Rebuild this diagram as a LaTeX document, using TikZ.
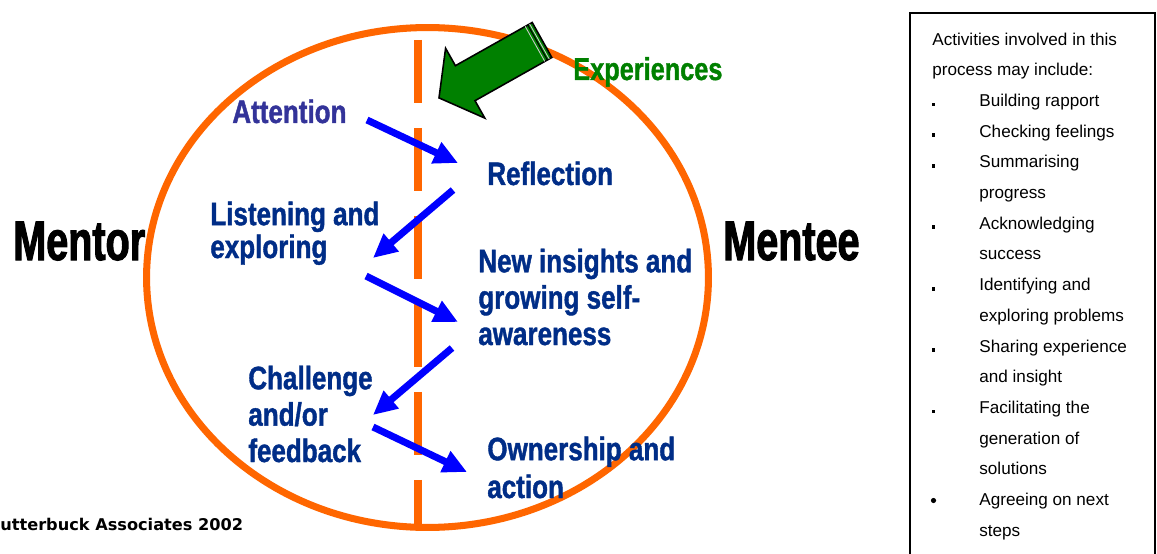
\documentclass[tikz,border=0pt]{standalone}
\usepackage{fontspec}
\setmainfont{Liberation Sans}
\newfontfamily\heavyfont[FakeStretch=0.8,FakeBold=1.2]{Liberation Sans Bold}
\newfontfamily\namefont[FakeStretch=0.71,FakeBold=1.8]{Liberation Sans Bold}
\newfontfamily\notefont{DejaVu Sans Bold}
\usetikzlibrary{arrows.meta,positioning}

\definecolor{ringorange}{RGB}{255,102,0}
\definecolor{arrowblue}{RGB}{0,0,255}
\definecolor{stepblue}{RGB}{0,45,135}
\definecolor{firstblue}{RGB}{51,51,153}
\definecolor{arrowgreen}{RGB}{0,128,0}

\begin{document}
\begin{tikzpicture}[
x=0.02cm, y=-0.02cm,
stage/.style={
    font=\heavyfont\fontsize{18.5}{20.7}\selectfont,
    text=stepblue,
    inner sep=0pt,
    anchor=base west,
    align=left
},
who/.style={font=\namefont\fontsize{31.7}{36}\selectfont, inner sep=0pt, anchor=base west},
activity/.style={font=\fontsize{9.75}{17.4}\selectfont, inner sep=0pt, anchor=base west, align=left},
flow/.style={-{Triangle[length=0.48cm,width=0.44cm]}, line width=4pt, draw=arrowblue}
]
\clip (0,0) rectangle (1157,554);
\fill[white] (0,0) rectangle (1157,554);

% the relationship ring and the line between the two sides
\draw[ringorange, line width=4pt] (427.5,277.5) ellipse [x radius=5.62cm, y radius=5cm];
\draw[ringorange, line width=4pt, dash pattern=on 1.26cm off 0.5cm] (418,40) -- (418,527);

\node[who] (mentor) at (13,260) {Mentor};
\node[who] (mentee) at (723,260) {Mentee};

% multi-line labels sit on the baseline of their last line
\node[stage, text=firstblue] (attention) at (232,123) {Attention};
\node[stage] (reflection) at (487,185) {Reflection};
\node[stage, font=\heavyfont\fontsize{18.5}{18.7}\selectfont] (listening) at (210,258) {Listening and\\exploring};
\node[stage] (insights) at (478,345) {New insights and\\growing self-\\awareness};
\node[stage] (challenge) at (248,462) {Challenge\\and/or\\feedback};
\node[stage, font=\heavyfont\fontsize{18.5}{21.5}\selectfont] (ownership) at (487,498) {Ownership and\\action};
\node[stage, text=arrowgreen, font=\heavyfont\fontsize{18}{20}\selectfont] (experiences) at (573,80) {Experiences};

\coordinate (att-out) at (367,120);
\coordinate (ref-in) at (458,163);
\coordinate (ref-out) at (453,190);
\coordinate (lis-in) at (373,258);
\coordinate (lis-out) at (366,276);
\coordinate (ins-in) at (458,322);
\coordinate (ins-out) at (452,348);
\coordinate (cha-in) at (373,415);
\coordinate (cha-out) at (373,427);
\coordinate (own-in) at (467,472);

\draw[flow] (att-out) -- (ref-in);
\draw[flow] (ref-out) -- (lis-in);
\draw[flow] (lis-out) -- (ins-in);
\draw[flow] (ins-out) -- (cha-in);
\draw[flow] (cha-out) -- (own-in);

% block arrow coming in from outside
\filldraw[fill=arrowgreen, draw=black, line width=0.9pt, line join=miter]
  (532.2,22.5) -- (455.4,65.7) -- (445.6,48.3) -- (439,97.9)
  -- (484.8,118.1) -- (475,100.7) -- (551.8,57.5) -- cycle;
\draw[white!80!black, line width=0.5pt] (529.6,24.0) -- (549.2,59.0);
\draw[black, line width=0.6pt] (527.8,25.0) -- (547.4,60.0);
\draw[white!80!black, line width=0.5pt] (525.2,26.4) -- (544.8,61.4);

\node[font=\notefont\fontsize{9.2}{11}\selectfont, inner sep=0pt, anchor=base west] (credit) at (0,530) {utterbuck Associates 2002};

% list of activities
\draw[line width=1.1pt] (910,13) rectangle (1155,600);
\node[activity] (intro) at (932,75.7) {Activities involved in this\\process may include:};
\foreach \row/\last/\txt in {2/2/{Building rapport}, 3/3/{Checking feelings}, 4/5/{Summarising\\progress},
    6/7/{Acknowledging\\success}, 8/9/{Identifying and\\exploring problems},
    10/11/{Sharing experience\\and insight}, 12/14/{Facilitating the\\generation of\\solutions}}
{
  \node[activity] (act-\row) at (979,45+30.7*\last) {\txt};
  \fill (931.5,45+30.7*\row) rectangle ++(3.8,-3.8);
}
\node[activity] (act-15) at (979,45+30.7*16) {Agreeing on next\\steps};
\fill (933.5,45+30.7*15-5) circle [radius=2.6];

\end{tikzpicture}
\end{document}
